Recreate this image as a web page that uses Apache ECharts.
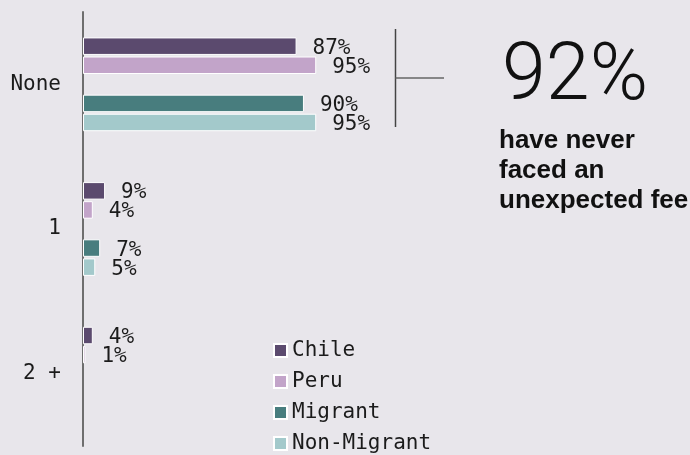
<!DOCTYPE html>
<html>
<head>
<meta charset="utf-8">
<script src="https://cdn.jsdelivr.net/npm/echarts@6/dist/echarts.min.js"></script>
<style>
  html, body { margin: 0; padding: 0; background: #e8e6eb; }
  #chart { width: 690px; height: 455px; }
</style>
</head>
<body>
<div id="chart"></div>
<script>
// Number of unexpected fees faced, share of respondents (%)
var categories = ['None', '1', '2 +'];
var chile      = [87, 9, 4];
var peru       = [95, 4, 1];
var migrant    = [90, 7, null];
var nonMigrant = [95, 5, null];
var seriesNames = ['Chile', 'Peru', 'Migrant', 'Non-Migrant'];
var seriesColors = ['#5b4a6e', '#c2a4c9', '#487d7e', '#a3c9cb'];

var monoFont = '"DejaVu Sans Mono", "Liberation Mono", monospace';
var textColor = '#1b1b1b';

function barSeries(name, data, color) {
  return {
    name: name,
    type: 'bar',
    data: data,
    barWidth: 17.5,
    barGap: '9%',
    itemStyle: { color: color, borderColor: '#ffffff', borderWidth: 1 },
    label: {
      show: true,
      position: 'right',
      distance: 16,
      offset: [0, 2],
      formatter: '{c}%',
      fontFamily: monoFont,
      fontSize: 21,
      color: textColor
    }
  };
}

var series = [
  barSeries(seriesNames[0], chile, seriesColors[0]),
  barSeries(seriesNames[1], peru, seriesColors[1]),
  // empty slot separating the country pair from the migrant pair
  {
    name: 'gap',
    type: 'bar',
    data: categories.map(function () { return null; }),
    barWidth: 17.5,
    barGap: '9%',
    silent: true,
    label: { show: false }
  },
  barSeries(seriesNames[2], migrant, seriesColors[2]),
  barSeries(seriesNames[3], nonMigrant, seriesColors[3])
];

var chart = echarts.init(document.getElementById('chart'), null, { renderer: 'canvas' });
chart.setOption({
  backgroundColor: '#e8e6eb',
  animation: false,
  grid: { left: 83, right: 361.5, top: 12, bottom: 9, containLabel: false },
  xAxis: {
    type: 'value',
    min: 0,
    max: 100,
    show: false
  },
  yAxis: {
    type: 'category',
    data: categories,
    inverse: true,
    axisLine: { show: true, lineStyle: { color: '#6e6e6e', width: 2 } },
    axisTick: { show: false },
    splitLine: { show: false },
    axisLabel: {
      margin: 22,
      fontFamily: monoFont,
      fontSize: 21,
      color: textColor
    }
  },
  legend: {
    data: seriesNames,
    orient: 'vertical',
    left: 273,
    top: 340,
    width: 200,
    height: 160,
    padding: 0,
    icon: 'rect',
    itemWidth: 13,
    itemHeight: 13,
    itemGap: 10,
    selectedMode: false,
    textStyle: {
      fontFamily: monoFont,
      fontSize: 21,
      color: textColor
    }
  },
  graphic: [
    {
      type: 'line',
      shape: { x1: 395.5, y1: 29, x2: 395.5, y2: 127 },
      style: { stroke: '#444444', lineWidth: 1.5 }
    },
    {
      type: 'line',
      shape: { x1: 395.5, y1: 78, x2: 444, y2: 78 },
      style: { stroke: '#666666', lineWidth: 1.5 }
    },
    {
      type: 'text',
      x: 502,
      y: 79,
      style: {
        text: '92%',
        font: '300 79px Roboto, "Liberation Sans", sans-serif',
        fill: '#111111',
        verticalAlign: 'middle',
        align: 'left'
      }
    },
    {
      type: 'text',
      x: 499,
      y: 140.5,
      style: {
        text: 'have never',
        font: 'bold 26px "Liberation Sans", Arial, sans-serif',
        fill: '#111111',
        verticalAlign: 'middle'
      }
    },
    {
      type: 'text',
      x: 499,
      y: 170.5,
      style: {
        text: 'faced an',
        font: 'bold 26px "Liberation Sans", Arial, sans-serif',
        fill: '#111111',
        verticalAlign: 'middle'
      }
    },
    {
      type: 'text',
      x: 499,
      y: 200.5,
      style: {
        text: 'unexpected fee',
        font: 'bold 26px "Liberation Sans", Arial, sans-serif',
        fill: '#111111',
        verticalAlign: 'middle'
      }
    }
  ],
  series: series
});
</script>
</body>
</html>
